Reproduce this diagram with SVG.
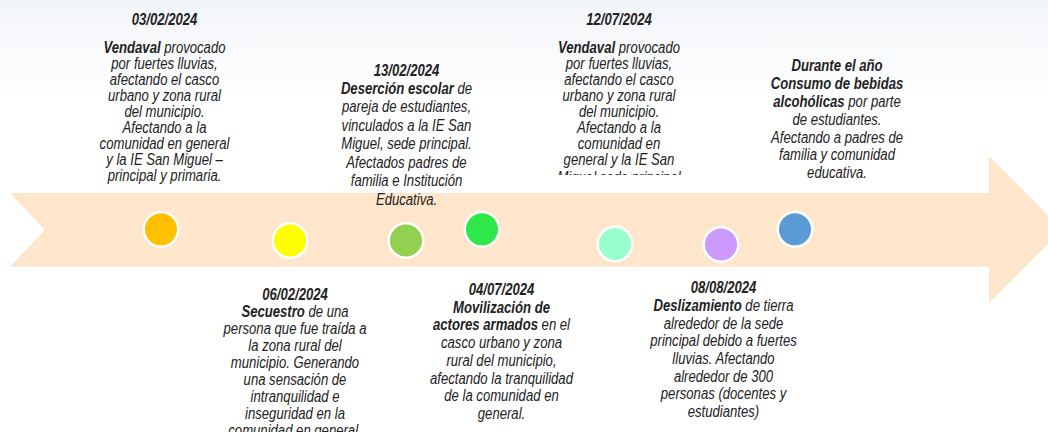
<svg xmlns="http://www.w3.org/2000/svg" width="1048" height="432" viewBox="0 0 1048 432">
  <style>
    .t { font-family: "Liberation Sans", Arial, sans-serif; font-size: 16px; font-style: italic; fill: #222222; text-anchor: middle; }
    .b { font-weight: bold; }
    .dot { stroke: #ffffff; stroke-width: 2.5; }
  </style>
  <defs>
    <linearGradient id="bg" x1="0" y1="0" x2="0" y2="1">
      <stop offset="0" stop-color="#f2f5f9"/>
      <stop offset="1" stop-color="#ffffff"/>
    </linearGradient>
    <clipPath id="clip3">
      <rect x="500" y="0" width="240" height="175"/>
    </clipPath>
  </defs>
  <rect x="0" y="0" width="1048" height="432" fill="#ffffff"/>
  <rect x="0" y="0" width="1048" height="100" fill="url(#bg)"/>

  <g id="timeline-arrow">
    <polygon points="10,193 989,193 989,156 1062,229.7 989,303 989,266.7 10,266.7 45,230" fill="#fee6cc"/>
  </g>

  <g id="connectors"></g>

  <g id="event-03-02-2024">
    <circle class="dot" cx="161" cy="229.3" r="17.3" fill="#ffc000"/>
    <g transform="translate(164.5 0) scale(0.82 1)">
      <text class="t b" x="0" y="25">03/02/2024</text>
      <text class="t" x="0" y="53"><tspan class="b">Vendaval</tspan> provocado</text>
      <text class="t" x="0" y="69">por fuertes lluvias,</text>
      <text class="t" x="0" y="85">afectando el casco</text>
      <text class="t" x="0" y="101">urbano y zona rural</text>
      <text class="t" x="0" y="117">del municipio.</text>
      <text class="t" x="0" y="133">Afectando a la</text>
      <text class="t" x="0" y="149">comunidad en general</text>
      <text class="t" x="0" y="165">y la IE San Miguel –</text>
      <text class="t" x="0" y="181">principal y primaria.</text>
    </g>
  </g>

  <g id="event-06-02-2024">
    <circle class="dot" cx="290" cy="240.5" r="17.3" fill="#ffff00"/>
    <g transform="translate(295 0) scale(0.82 1)">
      <text class="t b" x="0" y="300.5">06/02/2024</text>
      <text class="t" x="0" y="317.5"><tspan class="b">Secuestro</tspan> de una</text>
      <text class="t" x="0" y="334.5">persona que fue traída a</text>
      <text class="t" x="0" y="351.5">la zona rural del</text>
      <text class="t" x="0" y="368.5">municipio. Generando</text>
      <text class="t" x="0" y="385.5">una sensación de</text>
      <text class="t" x="0" y="402.5">intranquilidad e</text>
      <text class="t" x="0" y="419.5">inseguridad en la</text>
      <text class="t" x="0" y="436.5">comunidad en general.</text>
    </g>
  </g>

  <g id="event-13-02-2024">
    <circle class="dot" cx="406" cy="240.5" r="17.3" fill="#92d050"/>
    <g transform="translate(406.5 0) scale(0.82 1)">
      <text class="t b" x="0" y="76">13/02/2024</text>
      <text class="t" x="0" y="94"><tspan class="b">Deserción escolar</tspan> de</text>
      <text class="t" x="0" y="112.5">pareja de estudiantes,</text>
      <text class="t" x="0" y="131">vinculados a la IE San</text>
      <text class="t" x="0" y="149.5">Miguel, sede principal.</text>
      <text class="t" x="0" y="168">Afectados padres de</text>
      <text class="t" x="0" y="186.5">familia e Institución</text>
      <text class="t" x="0" y="205">Educativa.</text>
    </g>
  </g>

  <g id="event-04-07-2024">
    <circle class="dot" cx="482" cy="229.3" r="17.3" fill="#2ee84a"/>
    <g transform="translate(501.5 0) scale(0.82 1)">
      <text class="t b" x="0" y="295">04/07/2024</text>
      <text class="t b" x="0" y="312.7">Movilización de</text>
      <text class="t" x="0" y="330.5"><tspan class="b">actores armados</tspan> en el</text>
      <text class="t" x="0" y="348.2">casco urbano y zona</text>
      <text class="t" x="0" y="366">rural del municipio,</text>
      <text class="t" x="0" y="383.7">afectando la tranquilidad</text>
      <text class="t" x="0" y="401.5">de la comunidad en</text>
      <text class="t" x="0" y="419.2">general.</text>
    </g>
  </g>

  <g id="event-12-07-2024">
    <circle class="dot" cx="615" cy="244" r="17.3" fill="#99ffcc"/>
    <g clip-path="url(#clip3)">
      <g transform="translate(619 0) scale(0.82 1)">
        <text class="t b" x="0" y="25">12/07/2024</text>
        <text class="t" x="0" y="53"><tspan class="b">Vendaval</tspan> provocado</text>
        <text class="t" x="0" y="69">por fuertes lluvias,</text>
        <text class="t" x="0" y="85">afectando el casco</text>
        <text class="t" x="0" y="101">urbano y zona rural</text>
        <text class="t" x="0" y="117">del municipio.</text>
        <text class="t" x="0" y="133">Afectando a la</text>
        <text class="t" x="0" y="149">comunidad en</text>
        <text class="t" x="0" y="165">general y la IE San</text>
        <text class="t" x="0" y="183">Miguel sede principal</text>
      </g>
    </g>
  </g>

  <g id="event-08-08-2024">
    <circle class="dot" cx="721" cy="244.5" r="17.3" fill="#cc99ff"/>
    <g transform="translate(723.5 0) scale(0.82 1)">
      <text class="t b" x="0" y="293.3">08/08/2024</text>
      <text class="t" x="0" y="311"><tspan class="b">Deslizamiento</tspan> de tierra</text>
      <text class="t" x="0" y="328.7">alrededor de la sede</text>
      <text class="t" x="0" y="346.4">principal debido a fuertes</text>
      <text class="t" x="0" y="364.1">lluvias. Afectando</text>
      <text class="t" x="0" y="381.8">alrededor de 300</text>
      <text class="t" x="0" y="399.5">personas (docentes y</text>
      <text class="t" x="0" y="417.2">estudiantes)</text>
    </g>
  </g>

  <g id="event-durante-el-ano">
    <circle class="dot" cx="795" cy="229.3" r="17.3" fill="#5b9bd5"/>
    <g transform="translate(837 0) scale(0.82 1)">
      <text class="t b" x="0" y="71">Durante el año</text>
      <text class="t b" x="0" y="89">Consumo de bebidas</text>
      <text class="t" x="0" y="107"><tspan class="b">alcohólicas</tspan> por parte</text>
      <text class="t" x="0" y="125">de estudiantes.</text>
      <text class="t" x="0" y="143">Afectando a padres de</text>
      <text class="t" x="0" y="160.5">familia y comunidad</text>
      <text class="t" x="0" y="178.5">educativa.</text>
    </g>
  </g>
</svg>
